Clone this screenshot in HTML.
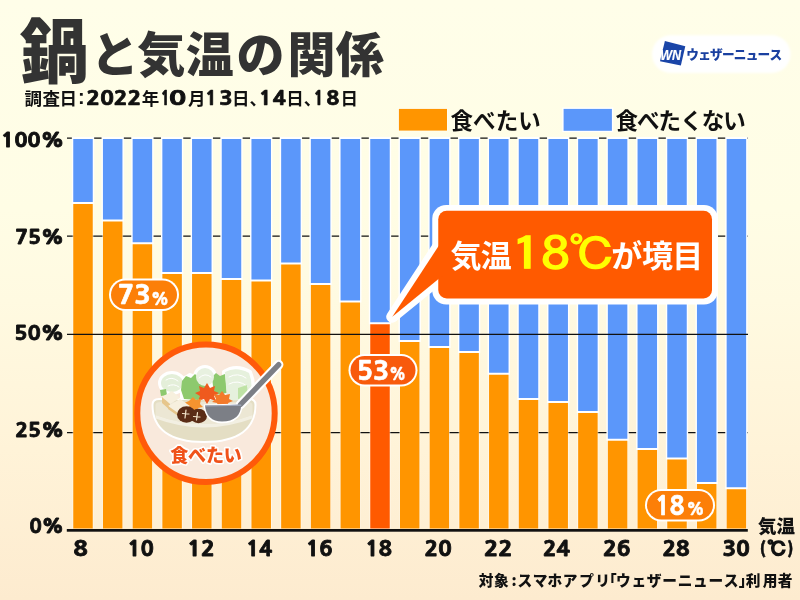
<!DOCTYPE html>
<html><head><meta charset="utf-8"><style>
html,body{margin:0;padding:0;}
body{width:800px;height:600px;overflow:hidden;background:linear-gradient(180deg,#fffee9 0%,#fffde5 35%,#fffae1 50%,#fff3d8 75%,#fdebcf 100%);}
svg{display:block;}
</style></head><body>
<svg width="800" height="600" viewBox="0 0 800 600">
<text x="19.85" y="78.2" font-size="70" font-family='"Noto Sans CJK JP", sans-serif' font-weight="900" fill="#333" transform="translate(21 0) scale(0.99 1) translate(-21 0)">鍋</text>
<text x="90.83 137.13 185.84 236.60 287.50 335.86" y="72" font-size="48" font-family='"Noto Sans CJK JP", sans-serif' font-weight="900" fill="#333" >と気温の関係</text>
<text x="24.48" y="105" font-size="17.5" font-family='"Noto Sans CJK JP", sans-serif' font-weight="700" fill="#111" >調</text>
<text x="42.38" y="105" font-size="17.5" font-family='"Noto Sans CJK JP", sans-serif' font-weight="700" fill="#111" >査</text>
<text x="59.51" y="105" font-size="17.5" font-family='"Noto Sans CJK JP", sans-serif' font-weight="700" fill="#111" >日</text>
<text x="141.85" y="105" font-size="17.5" font-family='"Noto Sans CJK JP", sans-serif' font-weight="700" fill="#111" >年</text>
<text x="188.03" y="105" font-size="17.5" font-family='"Noto Sans CJK JP", sans-serif' font-weight="700" fill="#111" >月</text>
<text x="232.00" y="105" font-size="17.5" font-family='"Noto Sans CJK JP", sans-serif' font-weight="700" fill="#111" >日</text>
<text x="249.60" y="105" font-size="17.5" font-family='"Noto Sans CJK JP", sans-serif' font-weight="700" fill="#111" >、</text>
<text x="286.31" y="105" font-size="17.5" font-family='"Noto Sans CJK JP", sans-serif' font-weight="700" fill="#111" >日</text>
<text x="303.70" y="105" font-size="17.5" font-family='"Noto Sans CJK JP", sans-serif' font-weight="700" fill="#111" >、</text>
<text x="340.41" y="105" font-size="17.5" font-family='"Noto Sans CJK JP", sans-serif' font-weight="700" fill="#111" >日</text>
<text x="78.08" y="104.2" font-size="20" font-family='"Liberation Sans", "Noto Sans CJK JP", sans-serif' font-weight="700" fill="#111" >:</text>
<text transform="translate(86.37 105) scale(1.2583 1.0)" font-size="18" font-family='"NanumGothic", "Liberation Sans", sans-serif' font-weight="800" fill="#111" stroke="#111" stroke-width="0.7">2022</text>
<text transform="translate(160.66 105) scale(0.8346 1.0)" font-size="18" font-family='"NanumGothic", "Liberation Sans", sans-serif' font-weight="800" fill="#111" stroke="#111" stroke-width="0.7">1</text>
<text transform="translate(168.70 105) scale(1.5780 1.0)" font-size="18" font-family='"NanumGothic", "Liberation Sans", sans-serif' font-weight="800" fill="#111" stroke="#111" stroke-width="0.7">0</text>
<text transform="translate(205.22 105) scale(1.0675 1.0)" font-size="18" font-family='"NanumGothic", "Liberation Sans", sans-serif' font-weight="800" fill="#111" stroke="#111" stroke-width="0.7">1</text>
<text transform="translate(219.14 105) scale(1.2216 1.0)" font-size="18" font-family='"NanumGothic", "Liberation Sans", sans-serif' font-weight="800" fill="#111" stroke="#111" stroke-width="0.7">3</text>
<text transform="translate(259.07 105) scale(1.1451 1.0)" font-size="18" font-family='"NanumGothic", "Liberation Sans", sans-serif' font-weight="800" fill="#111" stroke="#111" stroke-width="0.7">1</text>
<text transform="translate(272.66 105) scale(1.1940 1.0)" font-size="18" font-family='"NanumGothic", "Liberation Sans", sans-serif' font-weight="800" fill="#111" stroke="#111" stroke-width="0.7">4</text>
<text transform="translate(313.65 105) scale(0.8928 1.0)" font-size="18" font-family='"NanumGothic", "Liberation Sans", sans-serif' font-weight="800" fill="#111" stroke="#111" stroke-width="0.7">1</text>
<text transform="translate(326.41 105) scale(1.1622 1.0)" font-size="18" font-family='"NanumGothic", "Liberation Sans", sans-serif' font-weight="800" fill="#111" stroke="#111" stroke-width="0.7">8</text>
<!-- logo -->
<defs><filter id="soft" x="-10%" y="-20%" width="120%" height="140%"><feGaussianBlur stdDeviation="0.9"/></filter></defs>
<rect x="652" y="35.3" width="138.5" height="37.6" rx="18.8" fill="#fff" filter="url(#soft)"/>
<polygon points="664.9,41.1 685.3,46.35 680.85,65.6 660,61.2" fill="#1a45a8"/>
<text transform="translate(660.18 60.1) scale(0.8654 1.0)" font-size="14.5" font-family='"Liberation Sans", "Noto Sans CJK JP", sans-serif' font-weight="700" font-style="italic" fill="#fff" stroke="#fff" stroke-width="0.2">WN</text>
<text x="686.28 698.16 710.03 721.90 733.78 745.65 757.53 769.40" y="58.9" font-size="12.7" font-family='"Noto Sans CJK JP", sans-serif' font-weight="900" fill="#1a40a0" >ウェザーニュース</text>
<!-- legend -->
<rect x="398.2" y="108.2" width="49.5" height="23.1" fill="#fff" opacity="0.6"/>
<rect x="398.9" y="108.9" width="48.1" height="21.7" fill="#ff9500"/>
<rect x="562.2" y="107.5" width="51.1" height="24.6" fill="#fff"/>
<rect x="563.6" y="108.9" width="48.3" height="21.9" fill="#5b97fa"/>
<text x="450.48 473.09 495.70 518.31" y="128.5" font-size="22.5" font-family='"Noto Sans CJK JP", sans-serif' font-weight="700" fill="#111" >食べたい</text>
<text x="615.48 637.05 658.61 680.18 701.74 723.30" y="128.5" font-size="22.5" font-family='"Noto Sans CJK JP", sans-serif' font-weight="700" fill="#111" >食べたくない</text>
<!-- gridlines -->
<g stroke="#111" stroke-width="1.25">
<line x1="67" y1="138" x2="748" y2="138"/>
<line x1="67" y1="236" x2="748" y2="236"/>
<line x1="67" y1="432.5" x2="748" y2="432.5"/>
</g>
<rect x="72.55" y="203.00" width="20.9" height="325.50" fill="#fff" opacity="0.6"/>
<rect x="71.85" y="137" width="22.3" height="67.00" fill="#fff"/>
<rect x="73.25" y="139" width="19.5" height="63.00" fill="#5b97fa"/>
<rect x="73.25" y="204.00" width="19.5" height="324.50" fill="#ff9500"/>
<rect x="102.25" y="220.50" width="20.9" height="308.00" fill="#fff" opacity="0.6"/>
<rect x="101.55" y="137" width="22.3" height="84.50" fill="#fff"/>
<rect x="102.95" y="139" width="19.5" height="80.50" fill="#5b97fa"/>
<rect x="102.95" y="221.50" width="19.5" height="307.00" fill="#ff9500"/>
<rect x="131.95" y="243.25" width="20.9" height="285.25" fill="#fff" opacity="0.6"/>
<rect x="131.25" y="137" width="22.3" height="107.25" fill="#fff"/>
<rect x="132.65" y="139" width="19.5" height="103.25" fill="#5b97fa"/>
<rect x="132.65" y="244.25" width="19.5" height="284.25" fill="#ff9500"/>
<rect x="161.65" y="273.00" width="20.9" height="255.50" fill="#fff" opacity="0.6"/>
<rect x="160.95" y="137" width="22.3" height="137.00" fill="#fff"/>
<rect x="162.35" y="139" width="19.5" height="133.00" fill="#5b97fa"/>
<rect x="162.35" y="274.00" width="19.5" height="254.50" fill="#ff9500"/>
<rect x="191.35" y="273.00" width="20.9" height="255.50" fill="#fff" opacity="0.6"/>
<rect x="190.65" y="137" width="22.3" height="137.00" fill="#fff"/>
<rect x="192.05" y="139" width="19.5" height="133.00" fill="#5b97fa"/>
<rect x="192.05" y="274.00" width="19.5" height="254.50" fill="#ff9500"/>
<rect x="221.05" y="279.00" width="20.9" height="249.50" fill="#fff" opacity="0.6"/>
<rect x="220.35" y="137" width="22.3" height="143.00" fill="#fff"/>
<rect x="221.75" y="139" width="19.5" height="139.00" fill="#5b97fa"/>
<rect x="221.75" y="280.00" width="19.5" height="248.50" fill="#ff9500"/>
<rect x="250.75" y="280.50" width="20.9" height="248.00" fill="#fff" opacity="0.6"/>
<rect x="250.05" y="137" width="22.3" height="144.50" fill="#fff"/>
<rect x="251.45" y="139" width="19.5" height="140.50" fill="#5b97fa"/>
<rect x="251.45" y="281.50" width="19.5" height="247.00" fill="#ff9500"/>
<rect x="280.45" y="263.50" width="20.9" height="265.00" fill="#fff" opacity="0.6"/>
<rect x="279.75" y="137" width="22.3" height="127.50" fill="#fff"/>
<rect x="281.15" y="139" width="19.5" height="123.50" fill="#5b97fa"/>
<rect x="281.15" y="264.50" width="19.5" height="264.00" fill="#ff9500"/>
<rect x="310.15" y="284.00" width="20.9" height="244.50" fill="#fff" opacity="0.6"/>
<rect x="309.45" y="137" width="22.3" height="148.00" fill="#fff"/>
<rect x="310.85" y="139" width="19.5" height="144.00" fill="#5b97fa"/>
<rect x="310.85" y="285.00" width="19.5" height="243.50" fill="#ff9500"/>
<rect x="339.85" y="301.50" width="20.9" height="227.00" fill="#fff" opacity="0.6"/>
<rect x="339.15" y="137" width="22.3" height="165.50" fill="#fff"/>
<rect x="340.55" y="139" width="19.5" height="161.50" fill="#5b97fa"/>
<rect x="340.55" y="302.50" width="19.5" height="226.00" fill="#ff9500"/>
<rect x="369.55" y="323.25" width="20.9" height="205.25" fill="#fff" opacity="0.6"/>
<rect x="368.85" y="137" width="22.3" height="187.25" fill="#fff"/>
<rect x="370.25" y="139" width="19.5" height="183.25" fill="#5b97fa"/>
<rect x="370.25" y="324.25" width="19.5" height="204.25" fill="#ff5a00"/>
<rect x="399.25" y="341.00" width="20.9" height="187.50" fill="#fff" opacity="0.6"/>
<rect x="398.55" y="137" width="22.3" height="205.00" fill="#fff"/>
<rect x="399.95" y="139" width="19.5" height="201.00" fill="#5b97fa"/>
<rect x="399.95" y="342.00" width="19.5" height="186.50" fill="#ff9500"/>
<rect x="428.95" y="347.00" width="20.9" height="181.50" fill="#fff" opacity="0.6"/>
<rect x="428.25" y="137" width="22.3" height="211.00" fill="#fff"/>
<rect x="429.65" y="139" width="19.5" height="207.00" fill="#5b97fa"/>
<rect x="429.65" y="348.00" width="19.5" height="180.50" fill="#ff9500"/>
<rect x="458.65" y="352.00" width="20.9" height="176.50" fill="#fff" opacity="0.6"/>
<rect x="457.95" y="137" width="22.3" height="216.00" fill="#fff"/>
<rect x="459.35" y="139" width="19.5" height="212.00" fill="#5b97fa"/>
<rect x="459.35" y="353.00" width="19.5" height="175.50" fill="#ff9500"/>
<rect x="488.35" y="373.75" width="20.9" height="154.75" fill="#fff" opacity="0.6"/>
<rect x="487.65" y="137" width="22.3" height="237.75" fill="#fff"/>
<rect x="489.05" y="139" width="19.5" height="233.75" fill="#5b97fa"/>
<rect x="489.05" y="374.75" width="19.5" height="153.75" fill="#ff9500"/>
<rect x="518.05" y="399.00" width="20.9" height="129.50" fill="#fff" opacity="0.6"/>
<rect x="517.35" y="137" width="22.3" height="263.00" fill="#fff"/>
<rect x="518.75" y="139" width="19.5" height="259.00" fill="#5b97fa"/>
<rect x="518.75" y="400.00" width="19.5" height="128.50" fill="#ff9500"/>
<rect x="547.75" y="402.00" width="20.9" height="126.50" fill="#fff" opacity="0.6"/>
<rect x="547.05" y="137" width="22.3" height="266.00" fill="#fff"/>
<rect x="548.45" y="139" width="19.5" height="262.00" fill="#5b97fa"/>
<rect x="548.45" y="403.00" width="19.5" height="125.50" fill="#ff9500"/>
<rect x="577.45" y="412.00" width="20.9" height="116.50" fill="#fff" opacity="0.6"/>
<rect x="576.75" y="137" width="22.3" height="276.00" fill="#fff"/>
<rect x="578.15" y="139" width="19.5" height="272.00" fill="#5b97fa"/>
<rect x="578.15" y="413.00" width="19.5" height="115.50" fill="#ff9500"/>
<rect x="607.15" y="439.75" width="20.9" height="88.75" fill="#fff" opacity="0.6"/>
<rect x="606.45" y="137" width="22.3" height="303.75" fill="#fff"/>
<rect x="607.85" y="139" width="19.5" height="299.75" fill="#5b97fa"/>
<rect x="607.85" y="440.75" width="19.5" height="87.75" fill="#ff9500"/>
<rect x="636.85" y="449.00" width="20.9" height="79.50" fill="#fff" opacity="0.6"/>
<rect x="636.15" y="137" width="22.3" height="313.00" fill="#fff"/>
<rect x="637.55" y="139" width="19.5" height="309.00" fill="#5b97fa"/>
<rect x="637.55" y="450.00" width="19.5" height="78.50" fill="#ff9500"/>
<rect x="666.55" y="458.50" width="20.9" height="70.00" fill="#fff" opacity="0.6"/>
<rect x="665.85" y="137" width="22.3" height="322.50" fill="#fff"/>
<rect x="667.25" y="139" width="19.5" height="318.50" fill="#5b97fa"/>
<rect x="667.25" y="459.50" width="19.5" height="69.00" fill="#ff9500"/>
<rect x="696.25" y="483.00" width="20.9" height="45.50" fill="#fff" opacity="0.6"/>
<rect x="695.55" y="137" width="22.3" height="347.00" fill="#fff"/>
<rect x="696.95" y="139" width="19.5" height="343.00" fill="#5b97fa"/>
<rect x="696.95" y="484.00" width="19.5" height="44.50" fill="#ff9500"/>
<rect x="725.95" y="488.25" width="20.9" height="40.25" fill="#fff" opacity="0.6"/>
<rect x="725.25" y="137" width="22.3" height="352.25" fill="#fff"/>
<rect x="726.65" y="139" width="19.5" height="348.25" fill="#5b97fa"/>
<rect x="726.65" y="489.25" width="19.5" height="39.25" fill="#ff9500"/>
<line x1="67" y1="334.4" x2="748" y2="334.4" stroke="#111" stroke-width="1.25"/>
<rect x="66.8" y="529" width="681" height="2.7" fill="#111"/>
<text transform="translate(73.44 556.2) scale(1.1679 1.0)" font-size="20" font-family='"NanumGothic", "Liberation Sans", sans-serif' font-weight="800" fill="#111" stroke="#111" stroke-width="0.8">8</text>
<text transform="translate(127.41 556.2) scale(1.0819 1.0)" font-size="20" font-family='"NanumGothic", "Liberation Sans", sans-serif' font-weight="800" fill="#111" stroke="#111" stroke-width="0.8">10</text>
<text transform="translate(187.20 556.2) scale(1.1359 1.0)" font-size="20" font-family='"NanumGothic", "Liberation Sans", sans-serif' font-weight="800" fill="#111" stroke="#111" stroke-width="0.8">12</text>
<text transform="translate(246.34 556.2) scale(1.0679 1.0)" font-size="20" font-family='"NanumGothic", "Liberation Sans", sans-serif' font-weight="800" fill="#111" stroke="#111" stroke-width="0.8">14</text>
<text transform="translate(306.09 556.2) scale(1.0931 1.0)" font-size="20" font-family='"NanumGothic", "Liberation Sans", sans-serif' font-weight="800" fill="#111" stroke="#111" stroke-width="0.8">16</text>
<text transform="translate(365.61 556.2) scale(1.0808 1.0)" font-size="20" font-family='"NanumGothic", "Liberation Sans", sans-serif' font-weight="800" fill="#111" stroke="#111" stroke-width="0.8">18</text>
<text transform="translate(424.49 556.2) scale(1.1190 1.0)" font-size="20" font-family='"NanumGothic", "Liberation Sans", sans-serif' font-weight="800" fill="#111" stroke="#111" stroke-width="0.8">20</text>
<text transform="translate(484.08 556.2) scale(1.1721 1.0)" font-size="20" font-family='"NanumGothic", "Liberation Sans", sans-serif' font-weight="800" fill="#111" stroke="#111" stroke-width="0.8">22</text>
<text transform="translate(543.05 556.2) scale(1.1053 1.0)" font-size="20" font-family='"NanumGothic", "Liberation Sans", sans-serif' font-weight="800" fill="#111" stroke="#111" stroke-width="0.8">24</text>
<text transform="translate(603.02 556.2) scale(1.1300 1.0)" font-size="20" font-family='"NanumGothic", "Liberation Sans", sans-serif' font-weight="800" fill="#111" stroke="#111" stroke-width="0.8">26</text>
<text transform="translate(662.54 556.2) scale(1.1180 1.0)" font-size="20" font-family='"NanumGothic", "Liberation Sans", sans-serif' font-weight="800" fill="#111" stroke="#111" stroke-width="0.8">28</text>
<text transform="translate(722.41 556.2) scale(1.1222 1.0)" font-size="20" font-family='"NanumGothic", "Liberation Sans", sans-serif' font-weight="800" fill="#111" stroke="#111" stroke-width="0.8">30</text>
<text transform="translate(1.11 147.3) scale(1.1081 1.0)" font-size="19.5" font-family='"NanumGothic", "Liberation Sans", sans-serif' font-weight="800" fill="#111" stroke="#111" stroke-width="0.8">100%</text>
<text transform="translate(15.15 243.7) scale(1.0863 1.0)" font-size="19.5" font-family='"NanumGothic", "Liberation Sans", sans-serif' font-weight="800" fill="#111" stroke="#111" stroke-width="0.8">75%</text>
<text transform="translate(14.35 340.4) scale(1.1048 1.0)" font-size="19.5" font-family='"NanumGothic", "Liberation Sans", sans-serif' font-weight="800" fill="#111" stroke="#111" stroke-width="0.8">50%</text>
<text transform="translate(15.30 436.6) scale(1.0828 1.0)" font-size="19.5" font-family='"NanumGothic", "Liberation Sans", sans-serif' font-weight="800" fill="#111" stroke="#111" stroke-width="0.8">25%</text>
<text transform="translate(29.22 533.4) scale(1.0469 1.0)" font-size="19.5" font-family='"NanumGothic", "Liberation Sans", sans-serif' font-weight="800" fill="#111" stroke="#111" stroke-width="0.8">0%</text>
<text x="758.04 776.59" y="533" font-size="18.5" font-family='"Noto Sans CJK JP", sans-serif' font-weight="900" fill="#111" >気温</text>
<text transform="translate(759.85 554) scale(0.9657 1.0)" font-size="16.6" font-family='"Noto Sans CJK JP", sans-serif' font-weight="900" fill="#111" stroke="#111" stroke-width="0.5">(</text>
<text transform="translate(787.26 554) scale(0.9427 1.0)" font-size="16.6" font-family='"Noto Sans CJK JP", sans-serif' font-weight="900" fill="#111" stroke="#111" stroke-width="0.5">)</text>
<text transform="translate(767.33 556.3) scale(1.0136 1.0)" font-size="19.5" font-family='"IPAGothic", sans-serif' font-weight="400" fill="#111" stroke="#111" stroke-width="1.7">℃</text>
<text x="478.84 494.01 511.47 517.59 532.79 547.47 562.84 579.28 595.37 601.92" y="586" font-size="14.7" font-family='"Noto Sans CJK JP", sans-serif' font-weight="900" fill="#111" >対象:スマホアプリ「</text>
<text x="616.09 631.47 646.86 662.24 677.63 693.01 708.40 723.78" y="586" font-size="14.7" font-family='"Noto Sans CJK JP", sans-serif' font-weight="900" fill="#111" >ウェザーニュース</text>
<text x="738.63 745.75 762.74 777.84" y="586" font-size="14.7" font-family='"Noto Sans CJK JP", sans-serif' font-weight="900" fill="#111" >」利用者</text>
<!-- callout -->
<g>
<path d="M392.3,316.7 L444,237.8 L444,274.6 Z" fill="#fff" stroke="#fff" stroke-width="12" stroke-linejoin="round"/>
<rect x="432.25" y="205" width="285.75" height="99.5" rx="14" fill="#fff"/>
<rect x="438.25" y="210.75" width="273.75" height="87.75" rx="8.5" fill="#ff5a00"/>
<path d="M392.3,316.7 L444,237.8 L444,274.6 Z" fill="#ff5a00"/>
<text x="450.59 480.83" y="267.2" font-size="31" font-family='"Noto Sans CJK JP", sans-serif' font-weight="700" fill="#fff" >気温</text>
<text x="611.18 642.02 672.13" y="267.2" font-size="31" font-family='"Noto Sans CJK JP", sans-serif' font-weight="700" fill="#fff" >が境目</text>
<g font-family='"IPAGothic", sans-serif' font-size="46" fill="#ffff00" stroke="#ffff00" stroke-width="1.4">
<text transform="translate(518.5 270.4) scale(1.3 1)" x="-5.44" y="0">1</text>
<text transform="translate(543.5 270.4) scale(1.22 1)" x="-1.62" y="0">8</text>
<text transform="translate(571.3 270.2) scale(1.02 0.95)" x="-2.38" y="0">℃</text>
</g>
</g>
<!-- pills -->
<rect x="109" y="278.5" width="70" height="32.5" rx="16.25" fill="#fff"/>
<rect x="111" y="280.5" width="66" height="28.5" rx="14.25" fill="#fc7f08"/>
<rect x="348.5" y="354" width="69" height="32.5" rx="16.25" fill="#fff"/>
<rect x="350.5" y="356" width="65" height="28.5" rx="14.25" fill="#f85a0c"/>
<rect x="645" y="489" width="70" height="32.5" rx="16.25" fill="#fff"/>
<rect x="647" y="491" width="66" height="28.5" rx="14.25" fill="#fc7f08"/>
<text transform="translate(117.70 304.2) scale(1.0869 1.0)" font-size="25" font-family='"NanumGothic", "Liberation Sans", sans-serif' font-weight="800" fill="#fff" stroke="#fff" stroke-width="0.6">73</text>
<text transform="translate(150.77 304.6) scale(0.9804 1.0)" font-size="17" font-family='"NanumGothic", "Liberation Sans", sans-serif' font-weight="800" fill="#fff" stroke="#fff" stroke-width="0.3">%</text>
<text transform="translate(356.77 379.7) scale(1.0669 1.0)" font-size="25" font-family='"NanumGothic", "Liberation Sans", sans-serif' font-weight="800" fill="#fff" stroke="#fff" stroke-width="0.6">53</text>
<text transform="translate(388.89 379.6) scale(0.9137 1.0)" font-size="17" font-family='"NanumGothic", "Liberation Sans", sans-serif' font-weight="800" fill="#fff" stroke="#fff" stroke-width="0.3">%</text>
<text transform="translate(655.25 514.7) scale(0.9653 1.0)" font-size="25" font-family='"NanumGothic", "Liberation Sans", sans-serif' font-weight="800" fill="#fff" stroke="#fff" stroke-width="0.6">18</text>
<text transform="translate(686.27 515.1) scale(0.9804 1.0)" font-size="17" font-family='"NanumGothic", "Liberation Sans", sans-serif' font-weight="800" fill="#fff" stroke="#fff" stroke-width="0.3">%</text>
<!-- nabe circle -->
<g>
<circle cx="206" cy="413.2" r="68.7" fill="#f9e9dc" stroke="#ff5a0a" stroke-width="6"/>
<g stroke-linejoin="round" stroke-linecap="round">
<!-- white outline backdrop -->
<g fill="#fff" stroke="#fff" stroke-width="4">
<path d="M153.5,405 Q153.5,400 159,400 L249,400 Q254.5,400 254.5,405 C254.5,428 238,441 204,441 C170,441 153.5,428 153.5,405 Z"/>
<ellipse cx="172" cy="383" rx="12" ry="10"/>
<circle cx="205" cy="377" r="10"/>
<path d="M224,372 Q236,364 250,372 Q256,386 250,400 L226,402 Z"/>
<path d="M182,380 L190,375 L198,378 L206,376 L208,392 L196,400 L182,398 Z"/>
</g>
<!-- pot body -->
<path d="M153.5,405 Q153.5,400 159,400 L249,400 Q254.5,400 254.5,405 C254.5,428 238,441 204,441 C170,441 153.5,428 153.5,405 Z" fill="#e4dec4"/>
<path d="M155.5,405 Q155.5,402 161,402 L247,402 Q252.5,402 252.5,405 L252.5,415 Q204,433 155.5,415 Z" fill="#ece7d4"/>
<path d="M155.5,415 Q204,433 252.5,415 L252.5,418.5 Q204,436.5 155.5,418.5 Z" fill="#f2efe2"/>
<!-- cabbage left -->
<ellipse cx="172" cy="383" rx="11" ry="9" fill="#e4efd9"/>
<path d="M166,380 Q172,376 178,381 M168,386 Q174,383 179,387" stroke="#fff" stroke-width="1" fill="none"/>
<path d="M160,390 L166,389 L167,395 L161,396 Z" fill="#8dc96e"/>
<!-- green leaves -->
<path d="M182,381 L186,376 L191,378 L195,374 L199,378 L206,376 L208,392 L198,400 L184,399 L181,390 Z" fill="#8dc96e"/>
<path d="M212,377 L216,373 L220,376 L225,374 L227,393 L214,395 Z" fill="#8dc96e"/>
<!-- white ball -->
<circle cx="205" cy="377" r="9" fill="#e8f1e0"/>
<path d="M199,378 Q205,372 211,377" stroke="#fff" stroke-width="1" fill="none"/>
<!-- right cabbage -->
<path d="M225,372 Q236,366 249,373 Q254,386 249,399 L227,401 Z" fill="#e6f1dd"/>
<path d="M229,377 Q238,372 246,378 M229,384 Q238,379 247,386" stroke="#fff" stroke-width="1" fill="none"/>
<path d="M238,388 L247,385 L248,398 L238,399 Z" fill="#bfe3a6"/>
<!-- carrots (maple-ish) -->
<path d="M207,383 L210,388 L215,386 L214,391 L219,393 L214,396 L216,401 L210,399 L207,404 L204,399 L198,401 L200,396 L195,393 L200,391 L199,386 L204,388 Z" fill="#ef5a1e"/>
<path d="M222,391 L225,395 L230,394 L229,399 L233,401 L228,403 L229,407 L223,405 L219,408 L217,403 L212,402 L216,399 L214,394 L219,395 Z" fill="#f47a2a"/>
<path d="M193,397 L196,400 L201,399 L200,404 L203,407 L198,408 L197,412 L192,409 L188,411 L188,406 L184,403 L189,401 Z" fill="#f5932f"/>
<!-- tofu -->
<path d="M162,397 L172,391 L180,398 L170,404 Z" fill="#f7f0de"/>
<path d="M162,397 L170,404 L170,410 L162,403 Z" fill="#e6c68c"/>
<path d="M168,406 L180,399 L190,406 L178,413 Z" fill="#f7f0de"/>
<path d="M168,406 L178,413 L178,416 L168,409 Z" fill="#e6c68c"/>
<!-- shiitake -->
<ellipse cx="186.5" cy="414.5" rx="9.5" ry="8.2" fill="#5a2c16"/>
<ellipse cx="198.5" cy="416" rx="8.5" ry="7.2" fill="#5a2c16"/>
<g stroke="#f4e6cc" stroke-width="1.2" fill="none">
<path d="M186,410 L185,418 M182.5,413.5 L189,414"/>
<path d="M197.5,412.5 L196.5,420 M193.5,416.5 L200,417"/>
</g>
<!-- ladle -->
<line x1="240.5" y1="404.5" x2="278.7" y2="364.6" stroke="#fff" stroke-width="9.5"/>
<path d="M203.5,404.5 L243,403.5 Q242,423.3 222,423.3 Q205,423.3 203.5,404.5 Z" fill="#fff"/>
<line x1="240.5" y1="404.5" x2="278.7" y2="364.6" stroke="#7c7f86" stroke-width="5.3"/>
<path d="M205,405.6 L241.2,404.8 Q240.5,421.5 222,421.5 Q206.5,421.5 205,405.6 Z" fill="#7c7f86"/>
<path d="M205.5,406 L240.8,405.2" stroke="#a3acbd" stroke-width="1.2"/>
</g>

<text x="170.21 188.08 205.94 223.81" y="461.8" font-size="18" font-family='"Noto Sans CJK JP", sans-serif' font-weight="900" fill="#f0521a" stroke="#fff" stroke-width="3.2" paint-order="stroke" stroke-linejoin="round">食べたい</text>
</g>
</svg>
</body></html>
